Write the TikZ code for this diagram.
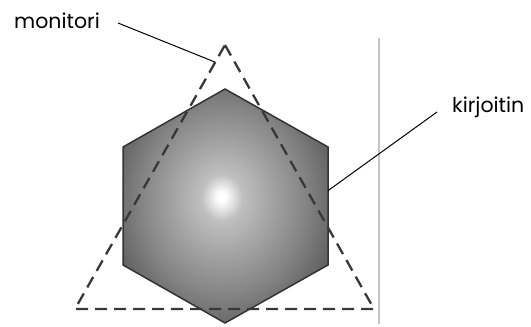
\documentclass[tikz,border=0pt]{standalone}
\usepackage{fontspec}
\setmainfont{Poppins}
\usepackage{tikz}
\usetikzlibrary{calc,positioning}
\definecolor{edgegray}{HTML}{333333}
\definecolor{dashgray}{HTML}{383838}
\definecolor{railgray}{HTML}{C4C4C4}
\pgfdeclareradialshading{hexshade}{\pgfpoint{-1bp}{2bp}}{%
  color(0bp)=(white); color(1bp)=(white); color(5bp)=(black!25);
  color(12bp)=(black!36); color(20bp)=(black!48); color(28bp)=(black!62);
  color(50bp)=(black!70)}
\tikzset{
  fig/hex/.style={draw=edgegray, line width=1.5pt, shading=hexshade},
  fig/tri/.style={draw=dashgray, line width=2.3pt, dash pattern=on 12pt off 7pt},
  fig/rail/.style={draw=railgray, line width=1.5pt},
  fig/label/.style={font=\fontsize{20.5}{24}\selectfont, inner sep=0pt},
  fig/lead/.style={draw=black, line width=1pt}
}
\begin{document}
\begin{tikzpicture}[x=1pt,y=-1pt]
  \useasboundingbox (0,0) rectangle (531,327);
  % printer hexagon
  \coordinate (h1) at (225,89);
  \coordinate (h2) at (328,147);
  \coordinate (h3) at (328,265);
  \coordinate (h4) at (225,323);
  \coordinate (h5) at (123,265);
  \coordinate (h6) at (123,147);
  \shade[fig/hex] (h1) -- (h2) -- (h3) -- (h4) -- (h5) -- (h6) -- cycle;

  % monitor triangle
  \coordinate (apex) at (225,45);
  \coordinate (bl) at (75,309);
  \coordinate (br) at (374,309);
  \draw[fig/tri] (apex) -- (br) -- (bl) -- cycle;

  % divider
  \coordinate (railtop) at (379,38);
  \coordinate (railbot) at (379,324);
  \draw[fig/rail] (railtop) -- (railbot);

  % labels
  \node[fig/label, anchor=base west] (monitori) at (14,28) {monitori};
  \node[fig/label, anchor=base west] (kirjoitin) at (452,112) {kirjoitin};
  \coordinate (monStart) at (118,23);
  \coordinate (kirStart) at (437,112);
  \coordinate (monTip) at ($(apex)!0.065!(bl)$);
  \coordinate (kirTip) at ($(h2)!0.37!(h3)$);
  \draw[fig/lead] (monStart) -- (monTip);
  \draw[fig/lead] (kirStart) -- (kirTip);
\end{tikzpicture}
\end{document}
